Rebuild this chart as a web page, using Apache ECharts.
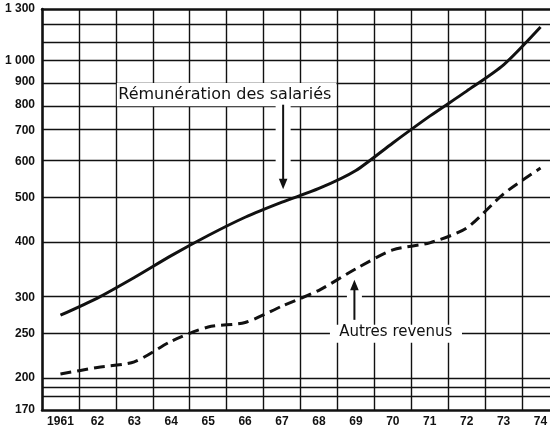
<!DOCTYPE html>
<html>
<head>
<meta charset="utf-8">
<script src="https://cdn.jsdelivr.net/npm/echarts@6/dist/echarts.min.js"></script>
<style>
html,body{margin:0;padding:0;background:#fff;}
#c{width:550px;height:430px;}
</style>
</head>
<body>
<div id="c"></div>
<script>
// ---- data ----
const years = ['1961','62','63','64','65','66','67','68','69','70','71','72','73','74'];
const remuneration = [275, 300, 333, 372, 412, 452, 488, 523, 573, 659, 755, 857, 979, 1186];
const autresRevenus = [204, 211, 217, 241, 259, 265, 288, 312, 348, 383, 397, 428, 509, 580];
const yTickValues = [170, 200, 250, 300, 400, 500, 600, 700, 800, 900, 1000, 1300];
const yTickLabels = ['170', '200', '250', '300', '400', '500', '600', '700', '800', '900', '1 000', '1 300'];
const yGridValues = [180, 190, 200, 250, 300, 400, 500, 600, 700, 800, 900, 1000, 1100, 1200];
const yMin = 170, yMax = 1300;

const L = Math.log10;
const digitFont = "'Liberation Sans', Arial, sans-serif";
const ink = '#111';

const chart = echarts.init(document.getElementById('c'), null, {renderer: 'canvas'});

const option = {
  animation: false,
  backgroundColor: '#fff',
  grid: {left: 42, top: 9, width: 517, height: 401, containLabel: false, outerBoundsMode: 'none'},
  xAxis: [{
    type: 'category',
    data: years,
    boundaryGap: true,
    position: 'bottom',
    axisLine: {show: true, lineStyle: {color: ink, width: 2.5}},
    axisTick: {show: false},
    axisLabel: {color: ink, fontFamily: digitFont, fontWeight: 'bold', fontSize: 12, margin: 6, interval: 0},
    splitLine: {show: true, interval: 0, lineStyle: {color: ink, width: 1.4}}
  }, {
    type: 'category',
    data: years,
    position: 'top',
    axisLine: {show: true, lineStyle: {color: ink, width: 2.5}},
    axisTick: {show: false},
    axisLabel: {show: false},
    splitLine: {show: false}
  }],
  yAxis: {
    type: 'value',
    min: L(yMin),
    max: L(yMax),
    axisLine: {show: true, lineStyle: {color: ink, width: 2.5}},
    axisTick: {show: false},
    splitLine: {show: false},
    axisLabel: {
      customValues: yTickValues.map(L),
      color: ink, fontFamily: digitFont, fontWeight: 'bold', fontSize: 12, margin: 7,
      formatter: function (v) {
        const raw = Math.pow(10, v);
        let best = 0;
        yTickValues.forEach(function (t, i) {
          if (Math.abs(t - raw) < Math.abs(yTickValues[best] - raw)) best = i;
        });
        return yTickLabels[best];
      }
    }
  },
  series: [{
    name: 'Rémunération des salariés',
    type: 'line',
    data: remuneration.map(L),
    smooth: 0.25,
    symbol: 'none',
    lineStyle: {color: ink, width: 3},
    z: 3,
    markLine: {
      silent: true,
      symbol: ['none', 'none'],
      label: {show: false},
      lineStyle: {color: ink, width: 1.4, type: 'solid'},
      data: yGridValues.map(function (v) { return {yAxis: L(v)}; })
    }
  }, {
    name: 'Autres revenus',
    type: 'line',
    data: autresRevenus.map(L),
    smooth: 0.25,
    symbol: 'none',
    lineStyle: {color: ink, width: 3, type: [11, 6]},
    z: 3
  }]
};
chart.setOption(option);

// ---- annotations anchored in data space ----
const c0 = chart.convertToPixel({gridIndex: 0}, [0, L(500)])[0];
const band = chart.convertToPixel({gridIndex: 0}, [1, L(500)])[0] - c0;
const PX = function (i) { return c0 + i * band; };
const PY = function (v) { return chart.convertToPixel({gridIndex: 0}, [0, L(v)])[1]; };

const remLabel = {text: 'Rémunération des salariés', i: 4.45, v: 841, size: 16};
const remBox = {i0: 1.5, i1: 7.5, v0: 900, v1: 800};
const remArrow = {i: 6.03, v0: 800, v1: 521, up: false};
const autLabel = {text: 'Autres revenus', i: 9.08, v: 252, size: 15};
const autBox = {i0: 7.27, i1: 10.9, v0: 262, v1: 239};
const autArrow = {i: 7.96, v0: 268.6, v1: 329, up: true};

const els = [];
function box(b, padTop, padBottom) {
  const x0 = PX(b.i0), x1 = PX(b.i1);
  const y0 = PY(b.v0) + padTop, y1 = PY(b.v1) + padBottom;
  els.push({type: 'rect', z: 100, shape: {x: x0 + 1, y: y0, width: x1 - x0 - 2, height: y1 - y0}, style: {fill: '#fff'}});
}
function label(t) {
  els.push({type: 'text', z: 102, x: PX(t.i), y: PY(t.v),
    style: {text: t.text, fill: ink, font: t.size + "px 'DejaVu Sans', sans-serif", align: 'center', verticalAlign: 'middle'}});
}
function arrow(a) {
  const x = PX(a.i), ys = PY(a.v0), ye = PY(a.v1);
  const headLen = 10.5, headHalf = 4.3;
  const dir = ye > ys ? 1 : -1;
  const yb = ye - dir * headLen;
  els.push({type: 'rect', z: 100, shape: {x: x - 7.5, y: Math.min(ys, yb), width: 15, height: Math.abs(yb - ys)}, style: {fill: '#fff'}});
  els.push({type: 'line', z: 101, shape: {x1: x, y1: ys, x2: x, y2: yb + dir * 1}, style: {stroke: ink, lineWidth: 2}});
  els.push({type: 'polygon', z: 101, shape: {points: [[x - headHalf, yb], [x + headHalf, yb], [x, ye]]}, style: {fill: ink}});
}
box(remBox, 1.5, 1.5);
box(autBox, 0, 0);
arrow(remArrow);
arrow(autArrow);
label(remLabel);
label(autLabel);
chart.setOption({graphic: {elements: els}});
</script>
</body>
</html>
